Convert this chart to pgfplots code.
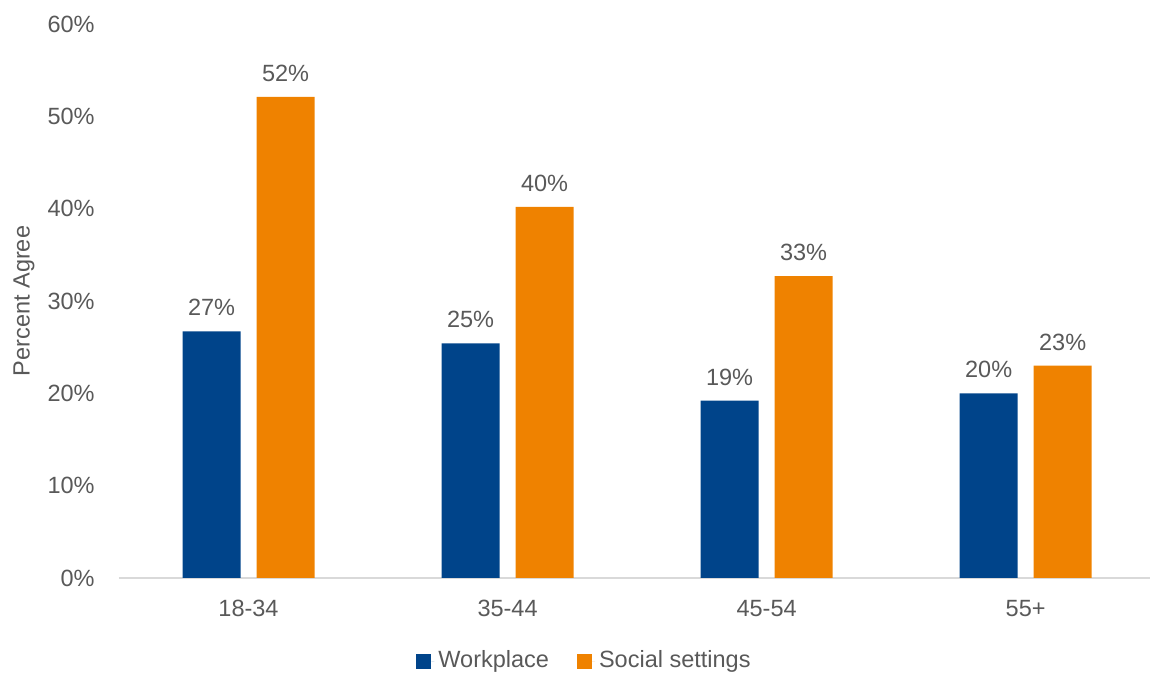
\documentclass[border=0pt]{standalone}
\usepackage{pgfplots}
\pgfplotsset{compat=1.18}
\usepackage{fontspec}
\setmainfont{Liberation Sans}
\definecolor{cblue}{HTML}{00448A}
\definecolor{corange}{HTML}{EF8200}
\definecolor{ctext}{HTML}{595959}
\definecolor{caxis}{HTML}{D9D9D9}
\begin{document}
\fontsize{11.75pt}{14pt}\selectfont
\begin{tikzpicture}
\begin{axis}[
  name=ax,
  scale only axis,
  width=515.5pt, height=277pt,
  ybar=8pt, bar width=29pt,
  xmin=-0.5, xmax=3.48,
  ymin=0, ymax=60,
  xtick={0,1,2,3},
  xticklabels={18-34,35-44,45-54,55+},
  ytick={0,10,20,30,40,50,60},
  yticklabels={0\%,10\%,20\%,30\%,40\%,50\%,60\%},
  axis x line*=bottom,
  axis y line*=left,
  y axis line style={draw=none},
  x axis line style={draw=caxis, line width=1pt},
  major tick length=0pt,
  tick style={draw=none},
  font=\fontsize{11.75pt}{14pt}\selectfont,
  every tick label/.append style={text=ctext},
  yticklabel style={inner sep=0pt, anchor=east, xshift=-12pt},
  xticklabel style={inner sep=0pt, anchor=north, yshift=-11pt},
  ylabel={Percent Agree},
  every axis y label/.style={at={(axis description cs:-0.0921,0.5)}, rotate=90, anchor=center, text=ctext},
  point meta=explicit symbolic,
  nodes near coords,
  every node near coord/.append style={inner sep=0pt, anchor=south, yshift=7.5pt, text=ctext},
  legend columns=2,
  legend style={draw=none, fill=none, at={(axis description cs:0.4525,-0.15)}, anchor=center,
    text=ctext, /tikz/every even column/.append style={column sep=12pt}},
  legend image code/.code={\fill[#1] (0pt,-3.75pt) rectangle (7.5pt,3.75pt); \path (7.5pt,0pt) -- (9pt,0pt);},
]
\addplot[fill=cblue, draw=none] coordinates {(0,26.7) [27\%] (1,25.4) [25\%] (2,19.2) [19\%] (3,20.0) [20\%]};
\addplot[fill=corange, draw=none] coordinates {(0,52.1) [52\%] (1,40.2) [40\%] (2,32.7) [33\%] (3,23.0) [23\%]};
\legend{Workplace, Social settings}
\end{axis}
\pgfresetboundingbox
\path ([xshift=-59.5pt,yshift=-47.5pt]ax.south west) rectangle ([yshift=12pt]ax.north east);
\end{tikzpicture}
\end{document}
